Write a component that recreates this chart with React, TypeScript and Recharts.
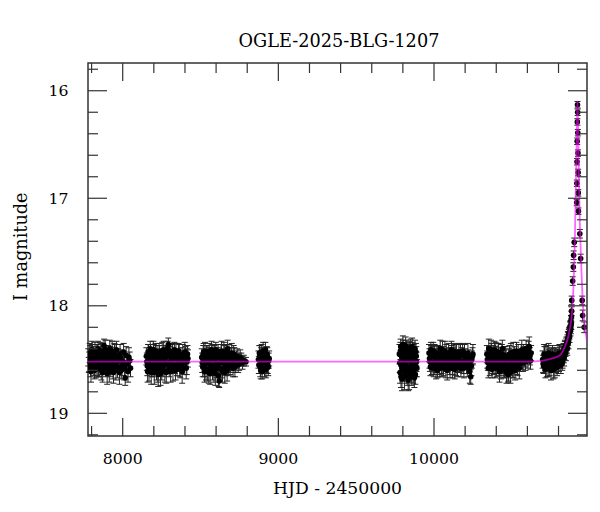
import React from 'react';
import { ComposedChart, Scatter, XAxis, YAxis, ErrorBar, ReferenceArea } from 'recharts';

type Obs = [number, number, number]; // [HJD-2450000, I mag, error]

const season1: Obs[] = [
  [7779, 18.48, 0.08], [7782, 18.55, 0.07], [7788, 18.44, 0.09], [7793, 18.58, 0.08], [7799, 18.50, 0.06],
  [7805, 18.46, 0.10], [7811, 18.57, 0.08], [7816, 18.53, 0.07], [7822, 18.43, 0.09], [7828, 18.59, 0.08],
  [7833, 18.49, 0.07], [7839, 18.45, 0.09], [7845, 18.56, 0.10], [7851, 18.52, 0.08], [7856, 18.42, 0.08],
  [7862, 18.60, 0.09], [7868, 18.47, 0.07], [7874, 18.54, 0.08], [7880, 18.37, 0.06], [7886, 18.50, 0.09],
  [7891, 18.58, 0.08], [7897, 18.44, 0.07], [7903, 18.53, 0.09], [7909, 18.48, 0.08], [7914, 18.61, 0.10],
  [7920, 18.46, 0.08], [7926, 18.55, 0.07], [7932, 18.42, 0.09], [7938, 18.57, 0.11], [7944, 18.50, 0.08],
  [7950, 18.45, 0.09], [7957, 18.59, 0.10], [7964, 18.52, 0.08], [7971, 18.47, 0.07], [7979, 18.62, 0.11],
  [7987, 18.49, 0.08], [7996, 18.56, 0.09], [8006, 18.43, 0.08], [8016, 18.67, 0.07], [8028, 18.54, 0.08],
  [8040, 18.48, 0.09], [8050, 18.58, 0.08],
  [7785, 18.52, 0.09], [7791, 18.45, 0.08], [7796, 18.61, 0.10], [7802, 18.41, 0.08], [7808, 18.53, 0.07],
  [7814, 18.47, 0.09], [7819, 18.60, 0.08], [7825, 18.50, 0.10], [7830, 18.44, 0.08], [7836, 18.56, 0.09],
  [7842, 18.40, 0.07], [7848, 18.58, 0.08], [7853, 18.49, 0.09], [7859, 18.54, 0.10], [7865, 18.43, 0.08],
  [7871, 18.62, 0.09], [7877, 18.46, 0.08], [7883, 18.57, 0.07], [7888, 18.41, 0.09], [7894, 18.52, 0.08],
  [7900, 18.63, 0.10], [7906, 18.45, 0.08], [7911, 18.55, 0.09], [7917, 18.40, 0.08], [7923, 18.59, 0.07],
  [7929, 18.51, 0.09], [7935, 18.47, 0.08], [7941, 18.62, 0.10], [7947, 18.44, 0.09], [7953, 18.54, 0.08],
  [7960, 18.41, 0.08], [7967, 18.57, 0.10], [7975, 18.50, 0.08], [7983, 18.45, 0.09], [7991, 18.60, 0.08],
  [8001, 18.52, 0.09], [8011, 18.58, 0.11], [8022, 18.46, 0.08], [8034, 18.61, 0.10], [8045, 18.51, 0.08],
];

const season2: Obs[] = [
  [8152, 18.47, 0.08], [8158, 18.56, 0.09], [8163, 18.43, 0.07], [8169, 18.60, 0.10], [8174, 18.50, 0.08],
  [8180, 18.45, 0.09], [8186, 18.58, 0.08], [8191, 18.52, 0.07], [8197, 18.41, 0.08], [8203, 18.62, 0.11],
  [8208, 18.48, 0.08], [8214, 18.55, 0.09], [8220, 18.44, 0.07], [8226, 18.59, 0.12], [8231, 18.51, 0.08],
  [8237, 18.46, 0.09], [8243, 18.63, 0.11], [8249, 18.53, 0.08], [8254, 18.42, 0.08], [8260, 18.57, 0.09],
  [8266, 18.49, 0.07], [8271, 18.61, 0.10], [8277, 18.45, 0.08], [8283, 18.54, 0.09], [8289, 18.40, 0.07],
  [8293, 18.36, 0.06], [8299, 18.58, 0.08], [8305, 18.47, 0.09], [8311, 18.52, 0.08], [8317, 18.43, 0.08],
  [8323, 18.60, 0.10], [8329, 18.49, 0.07], [8335, 18.55, 0.08], [8342, 18.44, 0.09], [8349, 18.57, 0.08],
  [8356, 18.50, 0.09], [8363, 18.46, 0.10], [8370, 18.59, 0.08], [8378, 18.53, 0.07], [8386, 18.45, 0.09],
  [8395, 18.56, 0.08], [8404, 18.48, 0.10], [8412, 18.52, 0.12], [8419, 18.49, 0.08],
  [8155, 18.52, 0.08], [8160, 18.61, 0.10], [8166, 18.45, 0.09], [8171, 18.55, 0.08], [8177, 18.40, 0.07],
  [8183, 18.62, 0.11], [8188, 18.47, 0.08], [8194, 18.57, 0.09], [8200, 18.44, 0.08], [8205, 18.54, 0.10],
  [8211, 18.42, 0.07], [8217, 18.60, 0.09], [8223, 18.49, 0.08], [8228, 18.64, 0.11], [8234, 18.43, 0.08],
  [8240, 18.56, 0.09], [8246, 18.47, 0.07], [8251, 18.59, 0.10], [8257, 18.51, 0.08], [8263, 18.41, 0.08],
  [8268, 18.54, 0.09], [8274, 18.48, 0.08], [8280, 18.62, 0.10], [8286, 18.46, 0.08], [8296, 18.53, 0.09],
  [8302, 18.42, 0.07], [8308, 18.61, 0.10], [8314, 18.50, 0.08], [8320, 18.45, 0.09], [8326, 18.55, 0.08],
  [8332, 18.41, 0.07], [8339, 18.60, 0.09], [8346, 18.48, 0.08], [8352, 18.53, 0.08], [8359, 18.42, 0.07],
  [8366, 18.56, 0.10], [8374, 18.47, 0.08], [8382, 18.61, 0.11], [8390, 18.50, 0.08], [8399, 18.43, 0.09],
  [8408, 18.58, 0.10], [8416, 18.45, 0.08],
];

const season3: Obs[] = [
  [8508, 18.48, 0.08], [8514, 18.57, 0.09], [8520, 18.43, 0.08], [8526, 18.61, 0.10], [8532, 18.50, 0.07],
  [8538, 18.46, 0.09], [8544, 18.59, 0.11], [8550, 18.53, 0.08], [8556, 18.42, 0.07], [8562, 18.63, 0.10],
  [8568, 18.49, 0.08], [8574, 18.56, 0.09], [8580, 18.44, 0.08], [8586, 18.60, 0.11], [8592, 18.51, 0.08],
  [8598, 18.41, 0.07], [8604, 18.58, 0.09], [8610, 18.47, 0.08], [8616, 18.65, 0.10], [8620, 18.70, 0.06],
  [8626, 18.53, 0.08], [8632, 18.45, 0.09], [8638, 18.59, 0.08], [8644, 18.50, 0.07], [8650, 18.43, 0.09],
  [8656, 18.62, 0.10], [8662, 18.48, 0.08], [8668, 18.55, 0.09], [8674, 18.40, 0.08], [8680, 18.57, 0.08],
  [8687, 18.46, 0.07], [8694, 18.53, 0.09], [8701, 18.44, 0.09], [8709, 18.58, 0.08], [8717, 18.49, 0.10],
  [8726, 18.54, 0.08], [8736, 18.47, 0.07], [8748, 18.52, 0.08], [8762, 18.50, 0.06], [8778, 18.51, 0.05],
  [8792, 18.52, 0.04],
  [8511, 18.53, 0.09], [8517, 18.45, 0.08], [8523, 18.56, 0.10], [8529, 18.42, 0.08], [8535, 18.60, 0.09],
  [8541, 18.51, 0.08], [8547, 18.44, 0.07], [8553, 18.62, 0.10], [8559, 18.47, 0.08], [8565, 18.55, 0.09],
  [8571, 18.41, 0.08], [8577, 18.59, 0.10], [8583, 18.50, 0.08], [8589, 18.46, 0.09], [8595, 18.63, 0.11],
  [8601, 18.48, 0.08], [8607, 18.54, 0.09], [8613, 18.43, 0.07], [8623, 18.58, 0.10], [8629, 18.49, 0.08],
  [8635, 18.42, 0.09], [8641, 18.61, 0.10], [8647, 18.53, 0.08], [8653, 18.46, 0.09], [8659, 18.57, 0.08],
  [8665, 18.44, 0.08], [8671, 18.60, 0.10], [8677, 18.50, 0.08], [8683, 18.45, 0.09], [8690, 18.56, 0.08],
  [8697, 18.48, 0.09], [8705, 18.52, 0.08], [8713, 18.45, 0.08], [8721, 18.57, 0.09], [8731, 18.50, 0.08],
  [8742, 18.55, 0.07], [8755, 18.48, 0.07], [8770, 18.53, 0.06],
];

const season4: Obs[] = [
  [8872, 18.50, 0.08], [8878, 18.44, 0.07], [8884, 18.57, 0.09], [8890, 18.47, 0.08], [8896, 18.61, 0.07],
  [8902, 18.42, 0.08], [8908, 18.54, 0.09], [8914, 18.49, 0.08], [8920, 18.59, 0.08], [8926, 18.45, 0.07],
  [8932, 18.55, 0.08], [8938, 18.51, 0.07],
  [8875, 18.55, 0.08], [8881, 18.46, 0.09], [8887, 18.60, 0.08], [8893, 18.43, 0.07], [8899, 18.52, 0.09],
  [8905, 18.48, 0.08], [8911, 18.58, 0.08], [8917, 18.41, 0.07], [8923, 18.53, 0.09], [8929, 18.47, 0.08],
  [8935, 18.57, 0.08], [8941, 18.49, 0.07],
];

const season5: Obs[] = [
  [9778, 18.45, 0.09], [9782, 18.62, 0.10], [9786, 18.38, 0.07], [9790, 18.55, 0.09], [9794, 18.68, 0.11],
  [9798, 18.48, 0.08], [9802, 18.41, 0.09], [9806, 18.59, 0.10], [9810, 18.66, 0.12], [9814, 18.52, 0.08],
  [9818, 18.37, 0.08], [9822, 18.63, 0.09], [9826, 18.46, 0.10], [9830, 18.57, 0.09], [9834, 18.69, 0.10],
  [9838, 18.43, 0.09], [9842, 18.60, 0.08], [9846, 18.50, 0.10], [9850, 18.39, 0.08], [9854, 18.65, 0.09],
  [9858, 18.54, 0.09], [9862, 18.44, 0.10], [9866, 18.61, 0.11], [9870, 18.49, 0.08], [9874, 18.67, 0.09],
  [9878, 18.40, 0.08], [9882, 18.56, 0.10], [9886, 18.47, 0.09], [9890, 18.58, 0.08],
  [9780, 18.53, 0.09], [9784, 18.42, 0.08], [9788, 18.66, 0.10], [9792, 18.47, 0.09], [9796, 18.58, 0.10],
  [9800, 18.36, 0.08], [9804, 18.51, 0.09], [9808, 18.44, 0.10], [9812, 18.61, 0.09], [9816, 18.48, 0.08],
  [9820, 18.56, 0.11], [9824, 18.40, 0.08], [9828, 18.64, 0.10], [9832, 18.51, 0.09], [9836, 18.45, 0.08],
  [9840, 18.67, 0.11], [9844, 18.42, 0.09], [9848, 18.58, 0.10], [9852, 18.47, 0.08], [9856, 18.62, 0.09],
  [9860, 18.38, 0.08], [9864, 18.53, 0.10], [9868, 18.45, 0.09], [9872, 18.59, 0.08], [9876, 18.50, 0.10],
  [9880, 18.64, 0.09], [9884, 18.43, 0.08], [9888, 18.52, 0.09],
];

const season6: Obs[] = [
  [9968, 18.44, 0.08], [9974, 18.52, 0.09], [9980, 18.41, 0.07], [9986, 18.56, 0.08], [9992, 18.47, 0.09],
  [9998, 18.58, 0.08], [10004, 18.43, 0.07], [10010, 18.53, 0.09], [10016, 18.49, 0.08], [10022, 18.60, 0.07],
  [10028, 18.45, 0.08], [10034, 18.55, 0.09], [10040, 18.40, 0.08], [10046, 18.51, 0.07], [10052, 18.57, 0.09],
  [10058, 18.46, 0.08], [10064, 18.53, 0.07], [10070, 18.42, 0.09], [10076, 18.59, 0.08], [10082, 18.48, 0.08],
  [10088, 18.54, 0.07], [10094, 18.44, 0.09], [10100, 18.56, 0.08], [10106, 18.50, 0.07], [10112, 18.41, 0.08],
  [10118, 18.58, 0.09], [10124, 18.47, 0.08], [10130, 18.53, 0.07], [10136, 18.45, 0.09], [10142, 18.57, 0.08],
  [10148, 18.49, 0.08], [10154, 18.55, 0.07], [10160, 18.43, 0.08], [10166, 18.52, 0.09], [10173, 18.58, 0.08],
  [10180, 18.46, 0.07], [10188, 18.54, 0.09], [10196, 18.44, 0.08], [10205, 18.51, 0.08], [10214, 18.57, 0.09],
  [10222, 18.48, 0.07], [10230, 18.61, 0.11], [10236, 18.66, 0.07], [10243, 18.50, 0.08], [10250, 18.45, 0.09],
  [9971, 18.49, 0.09], [9977, 18.57, 0.08], [9983, 18.46, 0.09], [9989, 18.53, 0.07], [9995, 18.42, 0.08],
  [10001, 18.55, 0.09], [10007, 18.48, 0.08], [10013, 18.59, 0.09], [10019, 18.44, 0.07], [10025, 18.52, 0.08],
  [10031, 18.47, 0.09], [10037, 18.58, 0.08], [10043, 18.45, 0.07], [10049, 18.54, 0.09], [10055, 18.41, 0.08],
  [10061, 18.57, 0.08], [10067, 18.49, 0.09], [10073, 18.53, 0.07], [10079, 18.44, 0.08], [10085, 18.60, 0.09],
  [10091, 18.50, 0.08], [10097, 18.46, 0.07], [10103, 18.58, 0.09], [10109, 18.52, 0.08], [10115, 18.45, 0.08],
  [10121, 18.55, 0.09], [10127, 18.42, 0.07], [10133, 18.59, 0.09], [10139, 18.50, 0.08], [10145, 18.44, 0.08],
  [10151, 18.57, 0.09], [10157, 18.48, 0.07], [10163, 18.54, 0.08], [10170, 18.45, 0.09], [10177, 18.52, 0.08],
  [10184, 18.42, 0.07], [10192, 18.58, 0.09], [10200, 18.48, 0.08], [10209, 18.55, 0.08], [10218, 18.44, 0.09],
  [10226, 18.53, 0.08], [10240, 18.56, 0.09], [10247, 18.47, 0.08],
];

const season7: Obs[] = [
  [10340, 18.45, 0.08], [10346, 18.53, 0.07], [10352, 18.40, 0.09], [10358, 18.57, 0.08], [10364, 18.48, 0.07],
  [10370, 18.44, 0.09], [10376, 18.55, 0.08], [10382, 18.50, 0.07], [10388, 18.41, 0.08], [10394, 18.58, 0.09],
  [10400, 18.46, 0.08], [10406, 18.53, 0.10], [10412, 18.43, 0.08], [10418, 18.56, 0.09], [10424, 18.49, 0.07],
  [10430, 18.60, 0.08], [10436, 18.45, 0.09], [10442, 18.54, 0.08], [10448, 18.51, 0.10], [10454, 18.59, 0.08],
  [10460, 18.47, 0.09], [10466, 18.62, 0.10], [10472, 18.52, 0.08], [10476, 18.64, 0.07], [10482, 18.49, 0.09],
  [10488, 18.57, 0.08], [10494, 18.44, 0.09], [10500, 18.55, 0.08], [10506, 18.48, 0.07], [10512, 18.58, 0.09],
  [10518, 18.46, 0.08], [10524, 18.53, 0.07], [10530, 18.42, 0.08], [10537, 18.56, 0.09], [10544, 18.49, 0.08],
  [10552, 18.54, 0.07], [10560, 18.45, 0.09], [10568, 18.51, 0.08], [10576, 18.43, 0.07], [10584, 18.48, 0.09],
  [10592, 18.40, 0.08], [10600, 18.46, 0.07], [10608, 18.42, 0.09], [10616, 18.47, 0.08], [10624, 18.44, 0.07],
  [10343, 18.50, 0.08], [10349, 18.58, 0.09], [10355, 18.46, 0.08], [10361, 18.53, 0.07], [10367, 18.41, 0.09],
  [10373, 18.59, 0.08], [10379, 18.45, 0.08], [10385, 18.55, 0.09], [10391, 18.48, 0.07], [10397, 18.42, 0.08],
  [10403, 18.57, 0.09], [10409, 18.50, 0.08], [10415, 18.44, 0.09], [10421, 18.61, 0.10], [10427, 18.47, 0.08],
  [10433, 18.54, 0.09], [10439, 18.40, 0.08], [10445, 18.58, 0.09], [10451, 18.46, 0.08], [10457, 18.55, 0.10],
  [10463, 18.50, 0.09], [10469, 18.57, 0.09], [10479, 18.60, 0.10], [10485, 18.45, 0.08], [10491, 18.62, 0.10],
  [10497, 18.51, 0.09], [10503, 18.59, 0.08], [10509, 18.43, 0.09], [10515, 18.54, 0.08], [10521, 18.60, 0.09],
  [10527, 18.49, 0.08], [10534, 18.55, 0.09], [10541, 18.44, 0.08], [10548, 18.58, 0.10], [10556, 18.50, 0.08],
  [10564, 18.41, 0.09], [10572, 18.53, 0.08], [10580, 18.47, 0.09], [10588, 18.52, 0.08], [10596, 18.45, 0.09],
  [10604, 18.50, 0.08], [10612, 18.38, 0.09], [10620, 18.51, 0.08],
];

const season8: Obs[] = [
  [10698, 18.50, 0.08], [10704, 18.56, 0.07], [10710, 18.47, 0.09], [10716, 18.59, 0.08], [10722, 18.52, 0.07],
  [10728, 18.45, 0.08], [10734, 18.57, 0.09], [10740, 18.49, 0.08], [10746, 18.54, 0.07], [10752, 18.60, 0.09],
  [10758, 18.47, 0.08], [10764, 18.55, 0.07], [10770, 18.50, 0.08], [10776, 18.58, 0.09], [10782, 18.46, 0.07],
  [10788, 18.53, 0.08], [10794, 18.49, 0.08], [10800, 18.56, 0.07], [10806, 18.44, 0.08], [10812, 18.51, 0.07],
  [10818, 18.47, 0.08], [10824, 18.53, 0.07], [10828, 18.45, 0.07], [10832, 18.42, 0.07], [10836, 18.48, 0.08],
  [10840, 18.40, 0.07], [10842, 18.38, 0.06], [10847, 18.44, 0.07], [10850, 18.36, 0.06], [10852, 18.35, 0.06],
  [10856, 18.40, 0.06], [10858, 18.33, 0.06], [10860, 18.30, 0.06], [10864, 18.34, 0.06], [10866, 18.27, 0.05],
  [10868, 18.25, 0.05], [10871, 18.29, 0.05], [10874, 18.20, 0.05], [10877, 18.23, 0.05], [10880, 18.14, 0.05],
  [10882, 18.17, 0.05], [10884, 18.05, 0.04], [10885, 17.95, 0.04], [10891, 17.77, 0.04], [10895, 17.64, 0.04],
  [10897, 17.53, 0.04], [10901, 17.41, 0.04],
  [10701, 18.54, 0.08], [10707, 18.45, 0.09], [10713, 18.52, 0.08], [10719, 18.47, 0.09], [10725, 18.58, 0.08],
  [10731, 18.50, 0.07], [10737, 18.44, 0.09], [10743, 18.57, 0.08], [10749, 18.48, 0.08], [10755, 18.53, 0.09],
  [10761, 18.45, 0.08], [10767, 18.59, 0.09], [10773, 18.47, 0.07], [10779, 18.54, 0.08], [10785, 18.50, 0.09],
  [10791, 18.57, 0.08], [10797, 18.45, 0.08], [10803, 18.52, 0.09], [10809, 18.48, 0.07], [10815, 18.55, 0.08],
  [10821, 18.44, 0.08], [10826, 18.50, 0.08], [10834, 18.46, 0.07], [10838, 18.43, 0.07], [10845, 18.40, 0.07],
  [10854, 18.38, 0.06], [10862, 18.31, 0.06], [10869, 18.26, 0.05], [10876, 18.19, 0.05], [10879, 18.21, 0.05],
  [10883, 18.10, 0.05],
  [10917, 17.04, 0.03], [10918, 16.86, 0.03], [10919, 16.66, 0.03], [10920, 16.47, 0.03], [10921, 16.29, 0.03],
  [10922, 16.13, 0.03], [10923, 16.20, 0.03], [10924, 16.39, 0.03], [10925, 16.58, 0.03], [10926, 16.76, 0.03],
  [10927, 16.95, 0.03], [10928, 17.12, 0.03],
  [10937, 17.33, 0.04], [10942, 17.56, 0.04], [10952, 17.95, 0.04], [10955, 18.09, 0.05], [10965, 18.20, 0.05],
];

// model light curve
const modelHjd = [7777, 10600, 10700, 10760, 10809, 10841, 10862, 10873, 10884, 10892, 10899, 10905, 10911, 10915,
  10918, 10920, 10922, 10925, 10929, 10933, 10937, 10942, 10948, 10953, 10958, 10964, 10971, 10978, 10983];
const modelMag = [18.52, 18.52, 18.51, 18.49, 18.46, 18.38, 18.29, 18.21, 18.11, 17.95, 17.71, 17.39, 16.92, 16.60,
  16.37, 16.20, 16.10, 16.30, 16.61, 16.95, 17.23, 17.45, 17.70, 17.88, 18.01, 18.12, 18.22, 18.28, 18.33];

const xTicks = [7800, 8000, 8200, 8400, 8600, 8800, 9000, 9200, 9400, 9600, 9800, 10000, 10200, 10400, 10600, 10800];
const xLabelTicks = [8000, 9000, 10000];
const yTicks = [15.8, 16.0, 16.2, 16.4, 16.6, 16.8, 17.0, 17.2, 17.4, 17.6, 17.8, 18.0, 18.2, 18.4, 18.6, 18.8, 19.0, 19.2];
const yLabelTicks = [16, 17, 18, 19];

const X_DOMAIN: [number, number] = [7777, 10983];
const Y_DOMAIN: [number, number] = [15.742, 19.211];

const W = 584;
const H = 496;
const X_AXIS_H = 40;
const Y_AXIS_W = 40;
const M = { top: 55, right: 5, bottom: 68 - X_AXIS_H, left: 80 - Y_AXIS_W };
const PL = M.left + Y_AXIS_W;
const PR = W - M.right;
const PT = M.top;
const PB = H - M.bottom - X_AXIS_H;

const FONT = '"DejaVu Serif", serif';
const TICK_COLOR = '#333';

const obs = [...season1, ...season2, ...season3, ...season4, ...season5, ...season6, ...season7, ...season8].map(
  ([hjd, mag, err]) => ({ hjd, mag, err })
);
const model = modelHjd.map((hjd, i) => ({ hjd, mag: modelMag[i] }));

const renderXTick = (props: any) => {
  const { x, payload, index } = props;
  const v = payload.value;
  const major = xLabelTicks.includes(v);
  const len = major ? 18 : 10;
  return (
    <g key={`xt-${index}`}>
      <line x1={x} x2={x} y1={PB} y2={PB - len} stroke={TICK_COLOR} strokeWidth={1.2} />
      <line x1={x} x2={x} y1={PT} y2={PT + len} stroke={TICK_COLOR} strokeWidth={1.2} />
      {major && (
        <text x={x} y={456} textAnchor="middle" fontFamily={FONT} fontSize={15.7} fill="#000">
          {v}
        </text>
      )}
    </g>
  );
};

const renderYTick = (props: any) => {
  const { y, payload, index } = props;
  const v = payload.value;
  const major = yLabelTicks.some((t) => Math.abs(t - v) < 1e-6);
  const len = major ? 19 : 10;
  return (
    <g key={`yt-${index}`}>
      <line x1={PL} x2={PL + len} y1={y} y2={y} stroke={TICK_COLOR} strokeWidth={1.2} />
      <line x1={PR - len} x2={PR} y1={y} y2={y} stroke={TICK_COLOR} strokeWidth={1.2} />
      {major && (
        <text x={60.5} y={y + 5.7} textAnchor="end" fontFamily={FONT} fontSize={15.7} fill="#000">
          {Math.round(v)}
        </text>
      )}
    </g>
  );
};

const Dot = (props: any) => {
  const { cx, cy } = props;
  if (cx == null || cy == null) return null;
  return <circle cx={cx} cy={cy} r={2.8} fill="#000" />;
};

const NoDot = () => <g />;

export default function App() {
  return (
    <div style={{ position: 'relative', width: W, height: H }}>
      <ComposedChart width={W} height={H} margin={M}>
        <XAxis
          type="number"
          dataKey="hjd"
          domain={X_DOMAIN}
          allowDataOverflow
          ticks={xTicks}
          interval={0}
          tick={renderXTick}
          tickLine={false}
          axisLine={false}
          height={X_AXIS_H}
        />
        <YAxis
          type="number"
          dataKey="mag"
          domain={Y_DOMAIN}
          reversed
          allowDataOverflow
          ticks={yTicks}
          interval={0}
          tick={renderYTick}
          tickLine={false}
          axisLine={false}
          width={Y_AXIS_W}
        />
        <Scatter data={obs} dataKey="mag" shape={Dot} isAnimationActive={false}>
          <ErrorBar dataKey="err" direction="y" width={3} stroke="#222" strokeWidth={1} isAnimationActive={false} />
        </Scatter>
        <Scatter
          data={model}
          dataKey="mag"
          shape={NoDot}
          line={{ stroke: '#ff00ff', strokeWidth: 1.8, strokeOpacity: 0.6 }}
          lineJointType="monotoneX"
          isAnimationActive={false}
        />
        <ReferenceArea
          x1={X_DOMAIN[0]}
          x2={X_DOMAIN[1]}
          y1={Y_DOMAIN[0]}
          y2={Y_DOMAIN[1]}
          fill="none"
          fillOpacity={0}
          stroke="#333"
          strokeWidth={1.5}
        />
      </ComposedChart>
      <svg width={W} height={H} style={{ position: 'absolute', left: 0, top: 0, pointerEvents: 'none' }}>
        <text x={331} y={39} textAnchor="middle" fontFamily={FONT} fontSize={17.7} fill="#000">
          OGLE-2025-BLG-1207
        </text>
        <text x={329.6} y={485.8} textAnchor="middle" fontFamily={FONT} fontSize={17.2} fill="#000">
          HJD - 2450000
        </text>
        <text
          x={0}
          y={0}
          transform="translate(18.7, 238.7) rotate(-90)"
          textAnchor="middle"
          fontFamily={FONT}
          fontSize={17.7}
          fill="#000"
        >
          I magnitude
        </text>
      </svg>
    </div>
  );
}
